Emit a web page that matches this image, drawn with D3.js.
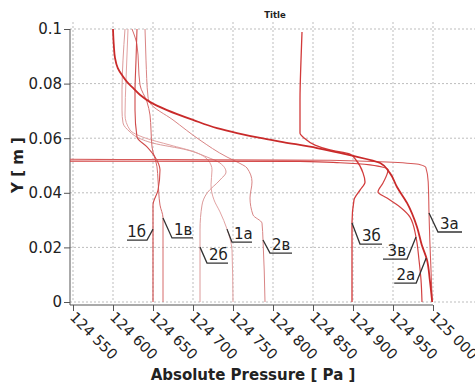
<!doctype html>
<html lang="ru">
	<head>
		<meta charset="utf-8" />
		<title>Absolute Pressure profiles</title>
		<script src="https://cdn.jsdelivr.net/npm/d3@7"></script>
		<style>
			body { margin: 0; background: #fff; }
			svg { display: block; }
		</style>
	</head>
	<body>
		<script>
			// each curve: [pressure Pa, Y m], top to bottom
			var curve2a = [[124600,0.1],[124601,0.0941],[124602.5,0.0894],[124606,0.0857],[124611,0.0832],[124617.5,0.0806],[124625,0.0784],[124634,0.0758],[124646,0.0733],[124667.5,0.0703],[124700,0.0667],[124730,0.0637],[124755,0.0619],[124784,0.0601],[124812.5,0.0586],[124855,0.0564],[124896,0.0538],[124934,0.0509],[124946,0.0473],[124955,0.0421],[124967.5,0.0363],[124980,0.0275],[124986,0.0209],[124992.5,0.0154],[124996,0.0081],[124999,0]];
			var curve3v = [[124450,0.1],[124450,0.0516],[124833.75,0.0515],[124883.75,0.0510],[124921.25,0.0502],[124943.75,0.0484],[124937.5,0.0436],[124931.25,0.0403],[124942.5,0.0381],[124958.75,0.0348],[124971.25,0.0311],[124978.75,0.0238],[124982.5,0.0154],[124985,0.0081],[124986.25,0]];
			var curve3a = [[124450,0.1],[124450,0.0524],[124871,0.0519],[124984,0.0503],[124991,0.0493],[124994,0.0440],[124995,0.0326],[124996,0.0227],[124997.5,0.0117],[124999,0]];
			var curve3b = [[124836.25,0.0989],[124835,0.0886],[124833.75,0.0740],[124833.75,0.0619],[124838.75,0.0601],[124852.5,0.0575],[124871.25,0.0557],[124896.25,0.0542],[124903.75,0.0520],[124912.5,0.0473],[124915,0.0440],[124908.75,0.0410],[124901.25,0.0374],[124898.75,0.0289],[124898.75,0]];
			var curve2b = [[124615,0.1],[124612.5,0.0886],[124611.25,0.0777],[124611.25,0.0703],[124612.5,0.0656],[124621.25,0.0623],[124630,0.0604],[124650,0.0582],[124692.5,0.0557],[124717.5,0.0531],[124733.75,0.0509],[124741.25,0.0476],[124733.75,0.0447],[124717.5,0.0399],[124711.25,0.0355],[124708.75,0.0264],[124708.75,0.0201],[124708.75,0]];
			var curve1b = [[124630,0.1],[124628.75,0.0886],[124627.5,0.0769],[124627.5,0.0703],[124630,0.0604],[124642.5,0.0568],[124652.5,0.0531],[124658.75,0.0484],[124656.25,0.0410],[124650,0.0355],[124650,0]];
			var curve1v = [[124623.75,0.1],[124630,0.0941],[124633.75,0.0795],[124642.5,0.0733],[124646.25,0.0685],[124647.5,0.0630],[124648.75,0.0568],[124655,0.0495],[124656.25,0.0447],[124658.75,0.0355],[124662.5,0.0308],[124662.5,0]];
			var curve2v = [[124640,0.1],[124641.25,0.0886],[124643.75,0.0751],[124646.25,0.0729],[124675,0.0667],[124708.75,0.0593],[124742.5,0.0531],[124755,0.0513],[124767.5,0.0491],[124773.75,0.0440],[124771.25,0.0381],[124775,0.0319],[124786.25,0.0289],[124787.5,0.0227],[124790,0]];
			var curve1a = [[124618.75,0.1],[124616.25,0.0813],[124615,0.0685],[124621.25,0.0630],[124640,0.0601],[124671.25,0.0575],[124702.5,0.0549],[124718.75,0.0520],[124723.75,0.0484],[124722.5,0.0429],[124726.25,0.0374],[124733.75,0.0330],[124742.5,0.0267],[124748.75,0.0190],[124750,0]];

			var xTicks = [124550, 124600, 124650, 124700, 124750, 124800, 124850, 124900, 124950, 125000];
			var yTicks = [0, 0.02, 0.04, 0.06, 0.08, 0.1];

			var labelNames = ["1б", "1в", "2б", "1а", "2в", "3б", "3а", "3в", "2а"];
			var labelP = [124650, 124662.5, 124708.75, 124742.5, 124787.5, 124898.75, 124995, 124978.75, 124991.5];
			var labelY = [0.0267, 0.0308, 0.0201, 0.0267, 0.0227, 0.0289, 0.0326, 0.0238, 0.0161];

			var w = 475;
			var h = 385;

			var svg = d3.select("body")
				.append("svg")
				.attr("width", w)
				.attr("height", h);

			var x = d3.scaleLinear().domain([124546.25, 125050]).range([70, 473]);
			var y = d3.scaleLinear().domain([0, 0.1]).range([302, 29]);

			var fmt = d3.formatLocale({decimal: ".", thousands: " ", grouping: [3], currency: ["", ""]}).format(",d");

			// grid
			svg.append("g").selectAll("line")
				.data(xTicks).enter().append("line")
				.attr("x1", function(d) { return x(d); })
				.attr("x2", function(d) { return x(d); })
				.attr("y1", 22).attr("y2", 302)
				.attr("stroke", "#bdbdbd").attr("stroke-dasharray", "2,2");
			svg.append("g").selectAll("line")
				.data(yTicks).enter().append("line")
				.attr("x1", 70).attr("x2", w)
				.attr("y1", function(d) { return y(d); })
				.attr("y2", function(d) { return y(d); })
				.attr("stroke", "#bdbdbd").attr("stroke-dasharray", "2,2");

			// bottom axis, 3px below y = 0
			var xAxisG = svg.append("g").attr("transform", "translate(0,305)");
			xAxisG.call(d3.axisBottom(x).tickValues(d3.range(124550, 125001, 10)).tickSize(3).tickFormat(""));
			xAxisG.call(d3.axisBottom(x).tickValues(xTicks).tickSize(6).tickFormat(""));
			xAxisG.selectAll(".domain").remove();
			xAxisG.selectAll(".tick text").remove();
			xAxisG.append("line").attr("x1", 70).attr("x2", x(125000)).attr("stroke", "#555");
			xAxisG.selectAll(".tick line").attr("stroke", "#555");
			xAxisG.selectAll("text.lab")
				.data(xTicks).enter().append("text")
				.attr("class", "lab")
				.attr("transform", function(d) { return "translate(" + (x(d) - 4) + ",13) rotate(45)"; })
				.attr("text-anchor", "start")
				.attr("font-family", "DejaVu Sans")
				.attr("font-size", "14.5px")
				.attr("fill", "#222")
				.text(function(d) { return fmt(d); });

			// left axis, 3px left of the first tick
			var yAxisG = svg.append("g").attr("transform", "translate(70,0)");
			yAxisG.call(d3.axisLeft(y).tickValues(d3.range(0, 0.1001, 0.005)).tickSize(3).tickFormat(""));
			yAxisG.call(d3.axisLeft(y).tickValues(yTicks).tickSize(6).tickFormat(function(d) { return String(+d.toFixed(2)); }));
			yAxisG.selectAll(".domain").remove();
			yAxisG.append("line").attr("y1", 29).attr("y2", 305).attr("stroke", "#555");
			yAxisG.selectAll(".tick line").attr("stroke", "#555");
			yAxisG.selectAll(".tick text")
				.attr("font-family", "DejaVu Sans")
				.attr("font-size", "15px")
				.attr("fill", "#222")
				.attr("x", -8);

			// curves
			svg.append("defs").append("clipPath").attr("id", "plot")
				.append("rect").attr("x", 70).attr("y", 20).attr("width", w - 70).attr("height", 284);

			var line = d3.line()
				.x(function(d) { return x(d[0]); })
				.y(function(d) { return y(d[1]); })
				.curve(d3.curveMonotoneY);

			var curves = [
				{pts: curve1a, color: "#e2a3a3", width: 1},
				{pts: curve2b, color: "#dc9a9a", width: 1},
				{pts: curve2v, color: "#d98585", width: 1},
				{pts: curve1v, color: "#d66a6a", width: 1},
				{pts: curve1b, color: "#cf4a4a", width: 1.1},
				{pts: curve3a, color: "#d65a5a", width: 1.1},
				{pts: curve3v, color: "#d24242", width: 1.2},
				{pts: curve3b, color: "#d23a3a", width: 1.3},
				{pts: curve2a, color: "#c92a2a", width: 1.8}
			];

			svg.append("g").attr("clip-path", "url(#plot)")
				.selectAll("path")
				.data(curves).enter().append("path")
				.attr("d", function(d) { return line(d.pts.slice().reverse()); })
				.attr("fill", "none")
				.attr("stroke", function(d) { return d.color; })
				.attr("stroke-width", function(d) { return d.width; });

			// curve labels: [dx, dy to the underline end, underline length (neg = to the left)]
			var labelLayout = [[-6, 11, -20], [9, 20, 21], [7, 16, 21], [5, 13, 20], [7, 13, 22], [8, 21, 22], [9, 19, 24], [-9, 22, -24], [-10, 25, -22]];
			var labels = svg.append("g");
			labelNames.forEach(function(name, i) {
				var ax = x(labelP[i]), ay = y(labelY[i]);
				var lay = labelLayout[i];
				var ex = ax + lay[0], ey = ay + lay[1];
				labels.append("path")
					.attr("d", "M" + ax + "," + ay + "L" + ex + "," + ey + "L" + (ex + lay[2]) + "," + ey)
					.attr("fill", "none").attr("stroke", "#333").attr("stroke-width", 1.3);
				labels.append("text")
					.attr("x", lay[2] < 0 ? ex - 1 : ex + 2)
					.attr("y", ey - 3)
					.attr("text-anchor", lay[2] < 0 ? "end" : "start")
					.attr("font-family", "DejaVu Sans")
					.attr("font-size", "15px")
					.attr("fill", "#222")
					.text(name);
			});

			// titles
			svg.append("text")
				.attr("x", 275).attr("y", 18)
				.attr("text-anchor", "middle")
				.attr("font-family", "DejaVu Sans").attr("font-weight", "bold")
				.attr("font-size", "8.5px").attr("fill", "#222")
				.text("Title");
			svg.append("text")
				.attr("x", 253).attr("y", 380)
				.attr("text-anchor", "middle")
				.attr("font-family", "DejaVu Sans").attr("font-weight", "bold")
				.attr("font-size", "15px").attr("fill", "#222")
				.text("Absolute Pressure [ Pa ]");
			svg.append("text")
				.attr("transform", "translate(23,165) rotate(-90)")
				.attr("text-anchor", "middle")
				.attr("font-family", "DejaVu Sans").attr("font-weight", "bold")
				.attr("font-size", "15px").attr("fill", "#222")
				.text("Y [ m ]");
		</script>
	</body>
</html>
